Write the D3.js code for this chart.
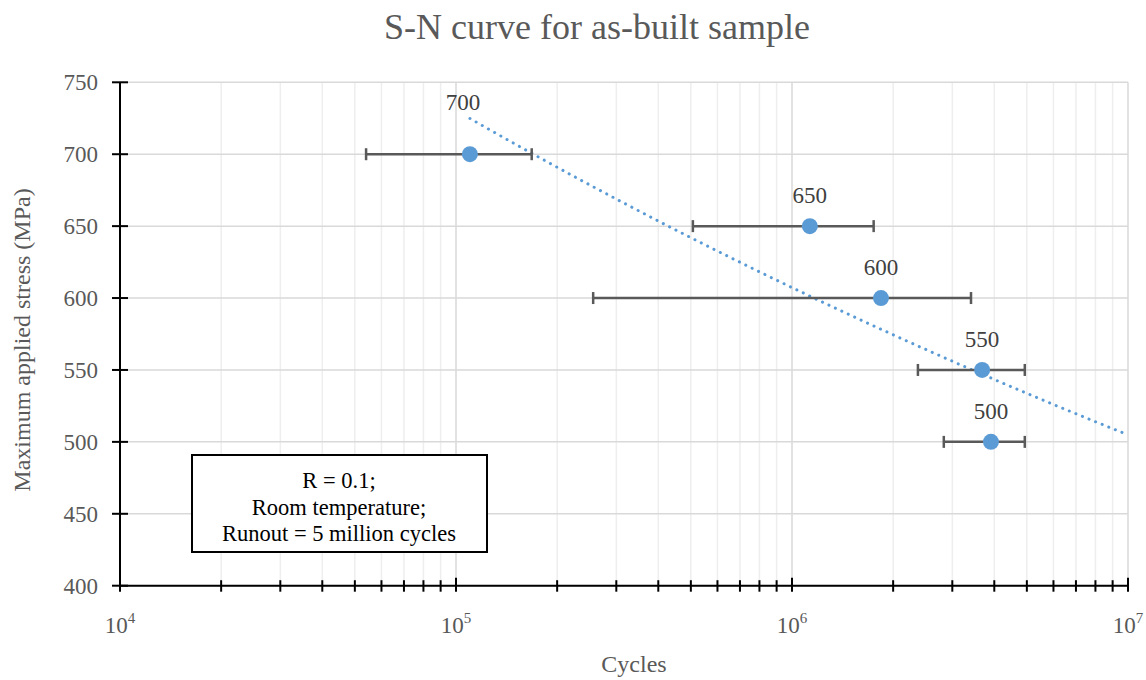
<!DOCTYPE html>
<html><head><meta charset="utf-8">
<script src="https://cdn.jsdelivr.net/npm/d3@7"></script>
<style>body{margin:0;background:#fff} text{font-family:"Liberation Serif","Times New Roman",serif}</style>
</head><body><svg id="c" width="1146" height="680"></svg>
<script>
const stress = [700, 650, 600, 550, 500];
const meanCycles = [1.10e5, 1.13e6, 1.84e6, 3.68e6, 3.91e6];
const minCycles = [5.4e4, 5.07e5, 2.56e5, 2.37e6, 2.83e6];
const maxCycles = [1.68e5, 1.75e6, 3.41e6, 4.93e6, 4.93e6];
const yTicks = [400, 450, 500, 550, 600, 650, 700, 750];
const xDecades = [1e4, 1e5, 1e6, 1e7];
const xTickExp = ["4", "5", "6", "7"];
const title = "S-N curve for as-built sample";
const xLabel = "Cycles";
const yLabel = "Maximum applied stress (MPa)";
const noteLines = ["R = 0.1;", "Room temperature;", "Runout = 5 million cycles"];

const svg = d3.select("#c");
const L = 120, R = 1128, T = 82.3, B = 585.7;
const x = d3.scaleLog().domain([1e4, 1e7]).range([L, R]);
const y = d3.scaleLinear().domain([400, 750]).range([B, T]);
const data = stress.map((s, i) => ({s, n: meanCycles[i], lo: minCycles[i], hi: maxCycles[i]}));

// grid
const allX = x.ticks();
const g = svg.append("g");
g.selectAll(".vm").data(allX).join("line")
  .attr("x1", d => x(d)).attr("x2", d => x(d)).attr("y1", T).attr("y2", B)
  .attr("stroke", d => xDecades.some(v => Math.abs(v - d) < 1) ? "#d9d9d9" : "#eeeeee")
  .attr("stroke-width", 1.5);
g.selectAll(".hg").data(yTicks).join("line")
  .attr("x1", L).attr("x2", R).attr("y1", d => y(d)).attr("y2", d => y(d))
  .attr("stroke", "#d9d9d9").attr("stroke-width", 1.5);

// trendline (power fit)
const lx = data.map(d => Math.log(d.n)), ly = data.map(d => Math.log(d.s));
const mx = d3.mean(lx), my = d3.mean(ly);
const b = d3.sum(lx.map((v, i) => (v - mx) * (ly[i] - my))) / d3.sum(lx.map(v => (v - mx) ** 2));
const a = my - b * mx;
const n0 = d3.min(meanCycles);
const trendN = d3.range(0, 101).map(k => Math.exp(Math.log(n0) + k / 100 * (Math.log(1e7) - Math.log(n0))));
svg.append("path")
  .attr("d", d3.line().x(n => x(n)).y(n => y(Math.exp(a + b * Math.log(n))))(trendN))
  .attr("fill", "none").attr("stroke", "#5b9bd5").attr("stroke-width", 3)
  .attr("stroke-linecap", "round").attr("stroke-dasharray", "0.1 7");

// error bars
const eb = svg.append("g").attr("stroke", "#595959").attr("stroke-width", 2.5);
data.forEach(d => {
  eb.append("line").attr("x1", x(d.lo)).attr("x2", x(d.hi)).attr("y1", y(d.s)).attr("y2", y(d.s));
  [d.lo, d.hi].forEach(v => eb.append("line").attr("x1", x(v)).attr("x2", x(v)).attr("y1", y(d.s) - 6).attr("y2", y(d.s) + 6));
});

// points
svg.selectAll(".pt").data(data).join("circle")
  .attr("cx", d => x(d.n)).attr("cy", d => y(d.s)).attr("r", 8).attr("fill", "#5b9bd5");

// data labels
svg.selectAll(".lbl").data(data).join("text")
  .attr("x", (d, i) => x(d.n) + (i === 0 ? -7 : 0))
  .attr("y", (d, i) => y(d.s) - (i === 0 ? 44 : 23))
  .attr("text-anchor", "middle").attr("font-size", 23).attr("fill", "#404040")
  .text(d => d.s);

// axes
const ax = svg.append("g").attr("stroke", "#000").attr("stroke-width", 2);
ax.append("line").attr("x1", L).attr("x2", L).attr("y1", T).attr("y2", B);
ax.append("line").attr("x1", L).attr("x2", R).attr("y1", B).attr("y2", B);
yTicks.forEach(t => ax.append("line").attr("x1", L - 8).attr("x2", L + 8).attr("y1", y(t)).attr("y2", y(t)));
allX.forEach(t => {
  const major = xDecades.some(v => Math.abs(v - t) < 1);
  ax.append("line").attr("x1", x(t)).attr("x2", x(t)).attr("y1", B - (major ? 8 : 5.5)).attr("y2", B + 6);
});

// tick labels
svg.selectAll(".yt").data(yTicks).join("text")
  .attr("x", 98).attr("y", d => y(d)).attr("dy", "0.35em").attr("text-anchor", "end")
  .attr("font-size", 23).attr("fill", "#595959").text(d => d);
const xt = svg.selectAll(".xt").data(xDecades).join("text")
  .attr("x", d => x(d)).attr("y", 633).attr("text-anchor", "middle")
  .attr("font-size", 23).attr("fill", "#595959");
xt.append("tspan").text("10");
xt.append("tspan").attr("font-size", 15).attr("dy", -10).text((d, i) => xTickExp[i]);

// titles
svg.append("text").attr("x", 597).attr("y", 39).attr("text-anchor", "middle")
  .attr("font-size", 36).attr("fill", "#595959").text(title);
svg.append("text").attr("x", 634).attr("y", 672).attr("text-anchor", "middle")
  .attr("font-size", 24).attr("fill", "#595959").text(xLabel);
svg.append("text").attr("transform", "translate(30,340) rotate(-90)").attr("text-anchor", "middle")
  .attr("font-size", 24).attr("fill", "#595959").text(yLabel);

// note box
svg.append("rect").attr("x", 192).attr("y", 455).attr("width", 295).attr("height", 97)
  .attr("fill", "#fff").attr("stroke", "#000").attr("stroke-width", 2);
svg.selectAll(".note").data(noteLines).join("text")
  .attr("x", 339).attr("y", (d, i) => 488 + i * 26.5).attr("text-anchor", "middle")
  .attr("font-size", 22.5).attr("fill", "#000").text(d => d);
</script></body></html>
